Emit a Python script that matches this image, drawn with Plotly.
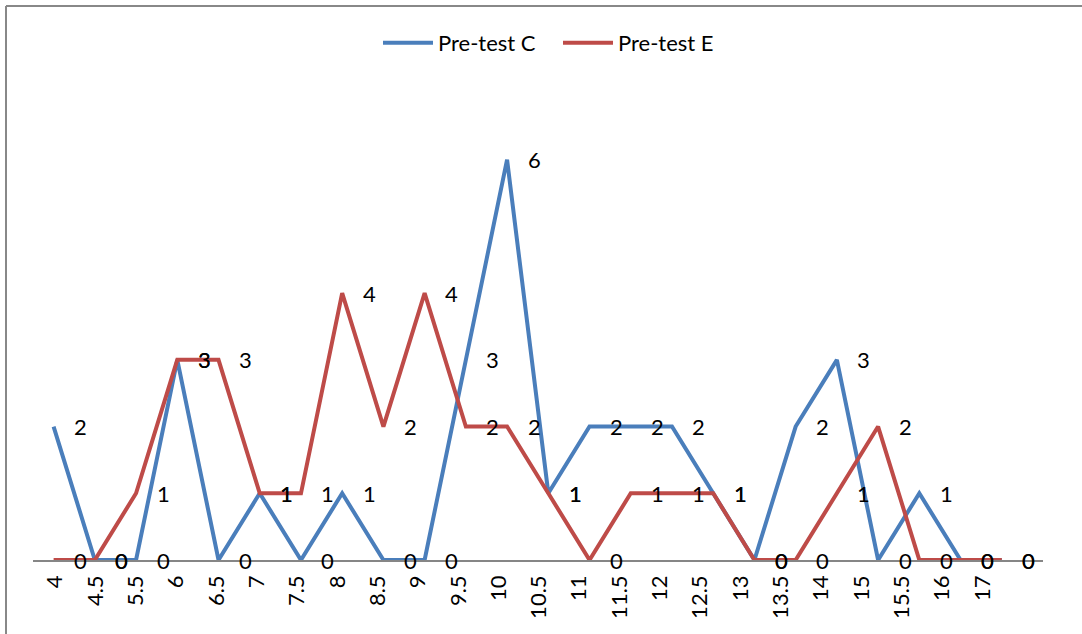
import plotly.graph_objects as go

# Score categories on the horizontal axis
scores = ["4", "4.5", "5.5", "6", "6.5", "7", "7.5", "8", "8.5", "9", "9.5", "10",
          "10.5", "11", "11.5", "12", "12.5", "13", "13.5", "14", "15", "15.5", "16", "17"]

# Number of students per score
pretest_c = [2, 0, 0, 3, 0, 1, 0, 1, 0, 0, 3, 6, 1, 2, 2, 2, 1, 0, 2, 3, 0, 1, 0, 0]
pretest_e = [0, 0, 1, 3, 3, 1, 1, 4, 2, 4, 2, 2, 1, 0, 1, 1, 1, 0, 0, 1, 2, 0, 0, 0]

BLUE = "#4A7EBB"
RED = "#BE4B48"
FONT = "Lato"

W, H = 1082, 634
L, R, T, B = 33, 39, 93, 74
n = len(scores)
idx = list(range(n))

fig = go.Figure()
fig.add_trace(go.Scatter(x=idx, y=pretest_c, mode="lines", name="Pre-test C",
                         line=dict(color=BLUE, width=4)))
fig.add_trace(go.Scatter(x=idx, y=pretest_e, mode="lines", name="Pre-test E",
                         line=dict(color=RED, width=4)))
# carrier for the category label axis
fig.add_trace(go.Scatter(x=idx, y=[0] * n, xaxis="x2", mode="none", showlegend=False,
                         hoverinfo="skip"))

# value labels to the right of each point
annotations = []
for series in (pretest_c, pretest_e):
    for i, v in enumerate(series):
        annotations.append(dict(x=i, y=v, xref="x", yref="y", text=str(v),
                                showarrow=False, xshift=27,
                                font=dict(family=FONT, size=22, color="black")))

# chart frame (top and left edges)
pw, ph = W - L - R, H - T - B
def px(xp):
    return (xp - L) / pw
def py(yp):
    return (H - B - yp) / ph
shapes = [
    dict(type="line", xref="paper", yref="paper", x0=px(6), x1=px(1090), y0=py(6), y1=py(6),
         line=dict(color="#888888", width=2)),
    dict(type="line", xref="paper", yref="paper", x0=px(6), x1=px(6), y0=py(6), y1=py(640),
         line=dict(color="#888888", width=2)),
]

fig.update_layout(
    width=W, height=H,
    margin=dict(l=L, r=R, t=T, b=B),
    paper_bgcolor="white", plot_bgcolor="white",
    font=dict(family=FONT, size=20, color="black"),
    showlegend=True,
    legend=dict(orientation="h", x=px(558), xanchor="center", y=py(43), yanchor="middle",
                font=dict(family=FONT, size=22), entrywidth=115, itemwidth=50),
    xaxis=dict(range=[-0.5, n + 0.0], showgrid=False, showticklabels=False,
               showline=True, linecolor="#868686", linewidth=2, ticks="",
               zeroline=False),
    xaxis2=dict(overlaying="x", anchor="y", side="bottom", range=[-0.55, n + 0.5],
                tickmode="array", tickvals=idx, ticktext=scores, showgrid=False,
                showline=False, ticks="", zeroline=False, tickangle=-90,
                ticklabelstandoff=10, tickfont=dict(family=FONT, size=22)),
    yaxis=dict(range=[0, 7], showgrid=False, showticklabels=False, zeroline=False,
               showline=False, ticks=""),
    annotations=annotations,
    shapes=shapes,
)

fig.write_html("out.html")
